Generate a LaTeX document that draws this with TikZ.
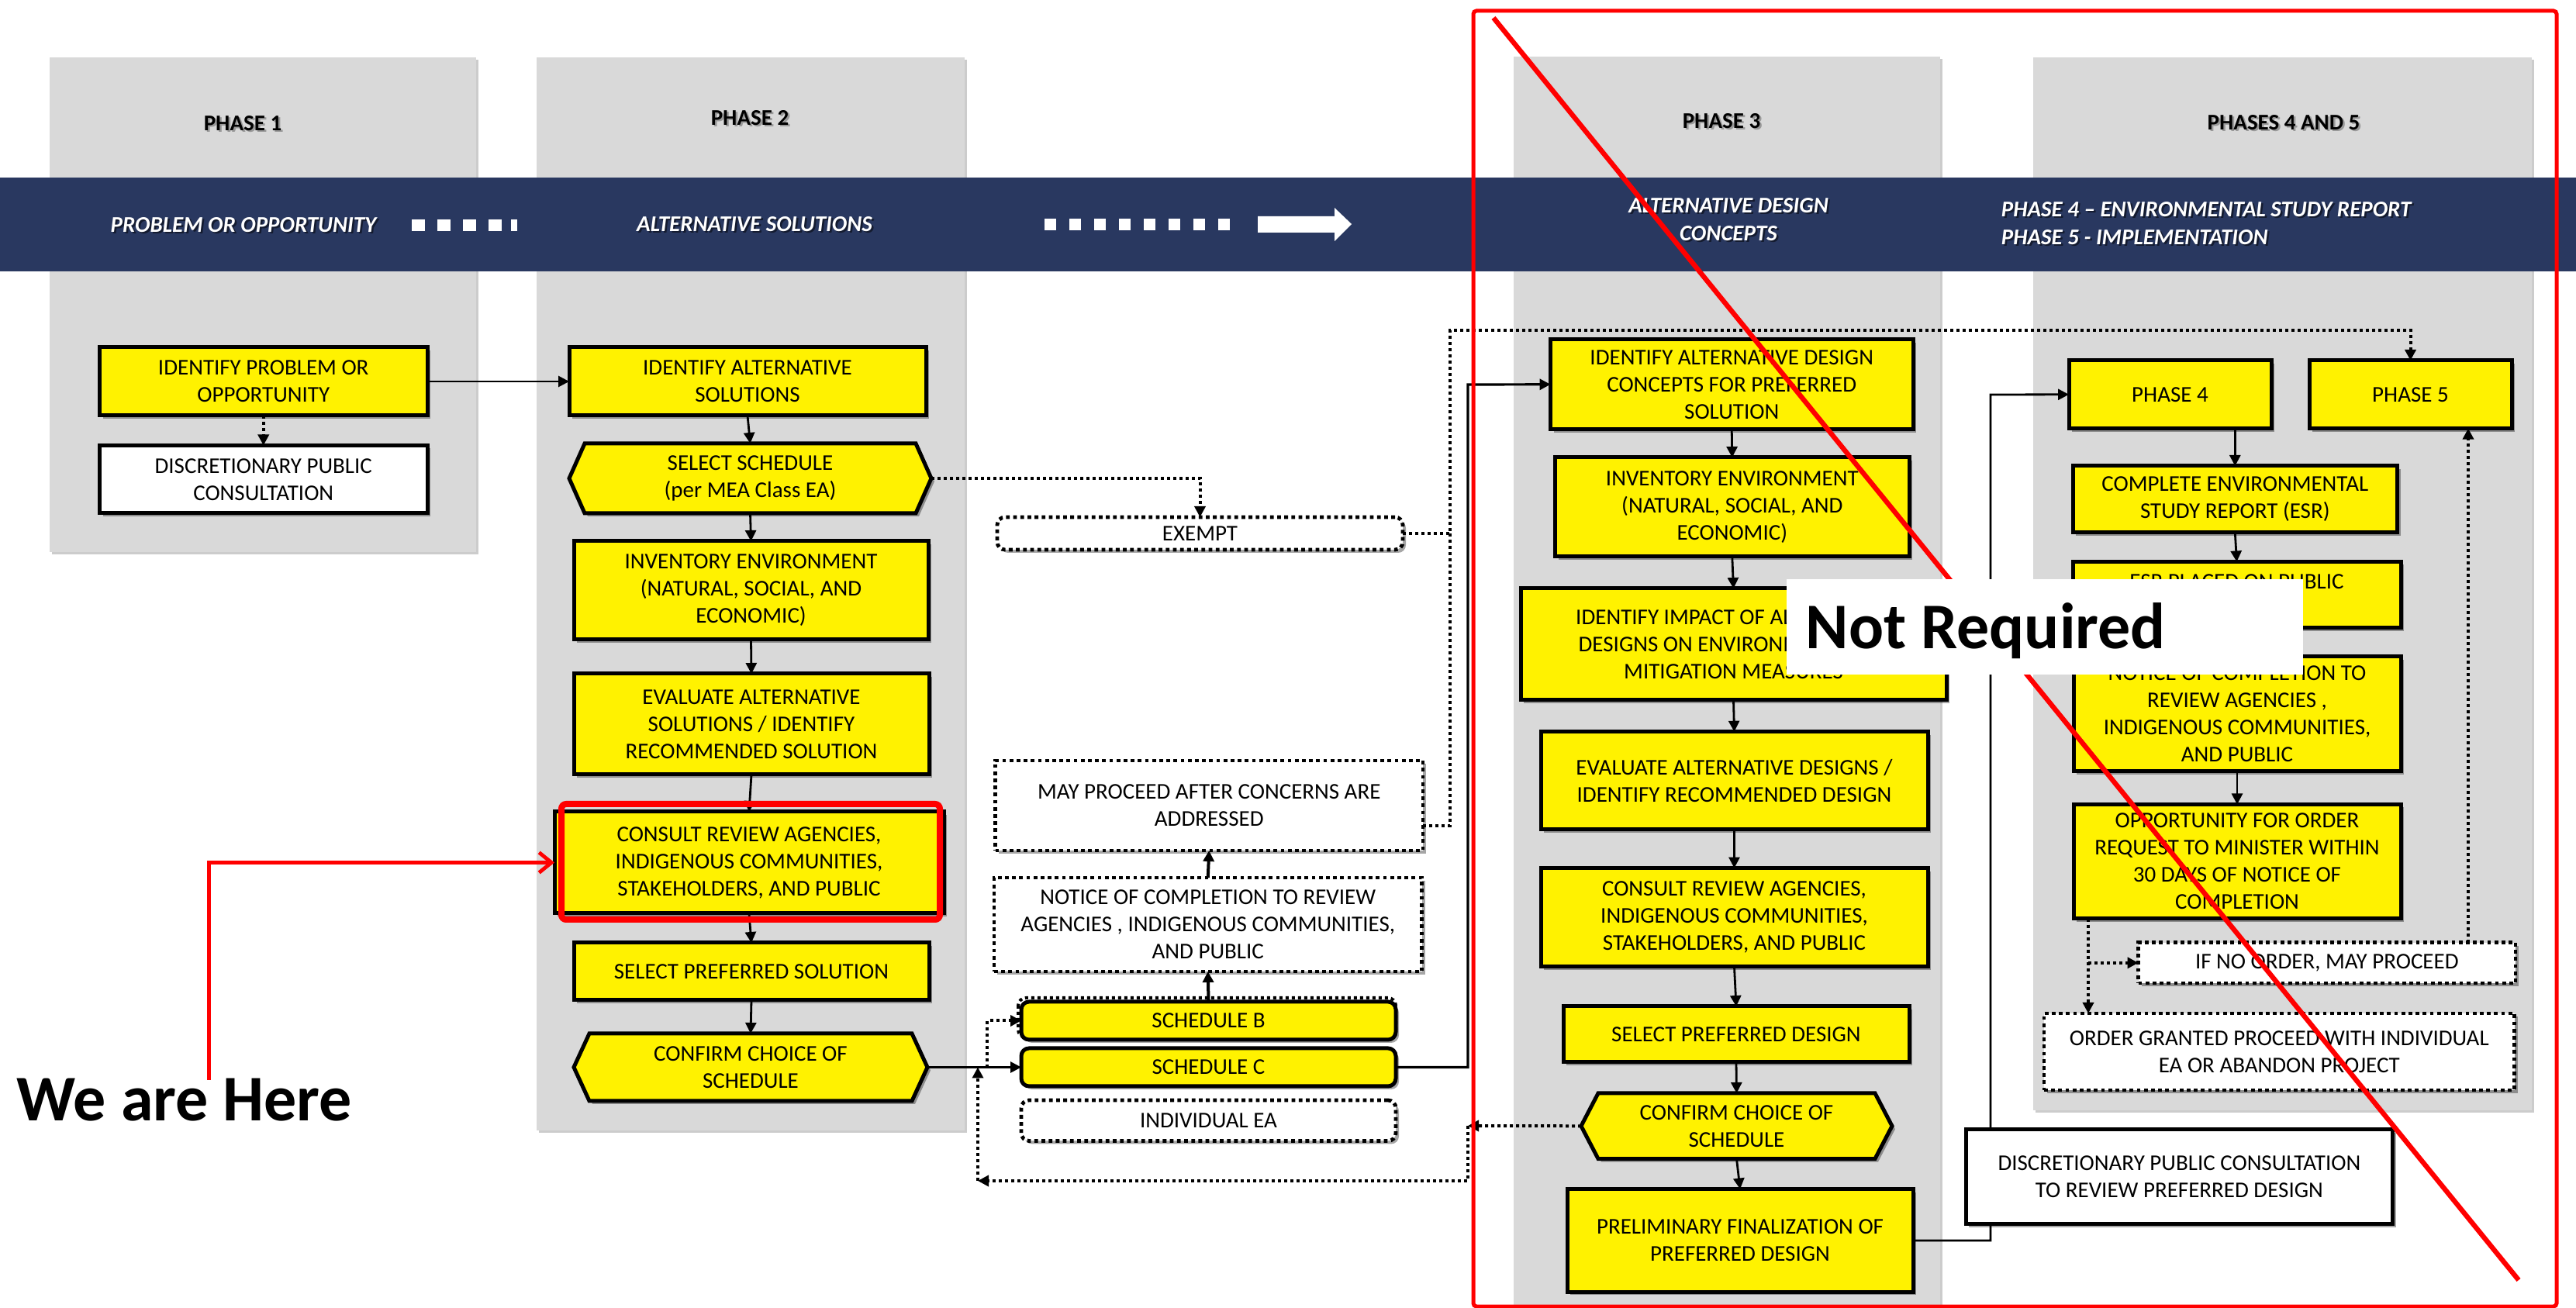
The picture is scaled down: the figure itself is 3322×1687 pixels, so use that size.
\documentclass[tikz,border=0pt]{standalone}
\usepackage{fontspec}
\setmainfont{Carlito}
\usetikzlibrary{arrows.meta,shadows,calc}
\definecolor{bannerblue}{RGB}{41,56,96}
\definecolor{colgray}{RGB}{217,217,217}
\tikzset{
  bf/.style={font=\fontsize{7.25pt}{8.75pt}\selectfont, align=center},
  shad/.style={drop shadow={shadow xshift=1pt, shadow yshift=-1pt, opacity=0.35, fill=black}},
  ybox/.style={bf, draw=black, line width=1.25pt, fill=yellow, inner sep=0pt, outer sep=0pt, shad},
  wbox/.style={ybox, fill=white},
  dbox/.style={bf, draw=black, line width=1.2pt, dash pattern=on 1.2pt off 1.1pt, fill=white, inner sep=0pt, outer sep=0pt, shad},
  rdbox/.style={dbox, rounded corners=2.5pt},
  rybox/.style={ybox, rounded corners=2.5pt},
  hexsty/.style={draw=black, line width=1.25pt, fill=yellow, shad},
  conn/.style={line width=0.7pt, -{Triangle[length=3.5pt,width=3.5pt]}},
  dline/.style={line width=1pt, dash pattern=on 1pt off 1pt},
  dconn/.style={dline, -{Triangle[length=3.5pt,width=3.5pt]}},
  phaselbl/.style={font=\bfseries\fontsize{7.25pt}{8.75pt}\selectfont},
  bantxt/.style={font=\bfseries\itshape\fontsize{7.25pt}{9pt}\selectfont, text=white},
  colsh/.style={drop shadow={shadow xshift=0.8pt, shadow yshift=-0.8pt, opacity=0.2, fill=black}},
}
\newcommand\bnode[7]{%
  \pgfmathsetmacro\bcx{(#3+#5)/2}\pgfmathsetmacro\bcy{(#4+#6)/2}%
  \pgfmathsetmacro\bww{(#5-#3)*0.25}\pgfmathsetmacro\bhh{(#6-#4)*0.25}%
  \node[#1, minimum width=\bww pt, minimum height=\bhh pt] (#2) at (\bcx,\bcy) {#7};}
\newcommand\hexnode[7]{%
  \pgfmathsetmacro\bcx{(#2+#4)/2}\pgfmathsetmacro\bcy{(#3+#5)/2}%
  \pgfmathsetmacro\bww{(#4-#2)*0.25}\pgfmathsetmacro\bhh{(#5-#3)*0.25}%
  \pgfmathsetmacro\bdd{#6*0.25}%
  \node[minimum width=\bww pt, minimum height=\bhh pt, inner sep=0pt, outer sep=0pt] (#1) at (\bcx,\bcy) {};
  \draw[hexsty] (#1.west) -- ([xshift=\bdd pt]#1.north west) -- ([xshift=-\bdd pt]#1.north east) -- (#1.east) -- ([xshift=-\bdd pt]#1.south east) -- ([xshift=\bdd pt]#1.south west) -- cycle;
  \node[bf] (#1t) at (#1.center) {#7};}
\newcommand\shlabel[4]{%
  \node[#3, text=black!60, opacity=0.55] (#1s) at ($(#2)+(2.5,2.5)$) {#4};
  \node[#3] (#1) at (#2) {#4};}
\begin{document}
\begin{tikzpicture}[x=0.25pt,y=-0.25pt]
\useasboundingbox (0,0) rectangle (3322,1687);
\fill[white] (0,0) rectangle (3322,1687);

% ---------- columns
\fill[colgray, colsh] (64,74) rectangle (614,712);
\fill[colgray, colsh] (692,74) rectangle (1244,1458);
\fill[colgray, colsh] (1952,73) rectangle (2502,1687);
\fill[colgray, colsh] (2622,74) rectangle (3265,1432);

\shlabel{l1}{313,159}{phaselbl}{PHASE 1}
\shlabel{l2}{967,152}{phaselbl}{PHASE 2}
\shlabel{l3}{2220,156}{phaselbl}{PHASE 3}
\shlabel{l45}{2945,158}{phaselbl}{PHASES 4 AND 5}

% ---------- banner
\fill[bannerblue] (0,229) rectangle (3322,350);
\foreach \i in {0,1,2,3} {\fill[white] (531+33*\i,283) rectangle (547.5+33*\i,298);}
\fill[white] (659,283) rectangle (667,298);
\foreach \i in {0,...,7} {\fill[white] (1347+32*\i,282.5) rectangle (1362+32*\i,297.5);}
\fill[white] (1622,279) -- (1721,279) -- (1721,268) -- (1743,289) -- (1721,311) -- (1721,300) -- (1622,300) -- cycle;

\node[bantxt, text=black, opacity=0.5] (b1s) at (316.5,292.5) {PROBLEM OR OPPORTUNITY};
\node[bantxt] (b1) at (314,290) {PROBLEM OR OPPORTUNITY};
\node[bantxt, text=black, opacity=0.5] (b2s) at (975.5,291.5) {ALTERNATIVE SOLUTIONS};
\node[bantxt] (b2) at (973,289) {ALTERNATIVE SOLUTIONS};
\node[bantxt, align=center, text=black, opacity=0.5] (b3s) at (2231.5,285.5) {ALTERNATIVE DESIGN\\CONCEPTS};
\node[bantxt, align=center] (b3) at (2229,283) {ALTERNATIVE DESIGN\\CONCEPTS};
\node[bantxt, align=left, anchor=west, inner sep=0pt, text=black, opacity=0.5] (b4s) at (2582.5,290.5) {PHASE 4 – ENVIRONMENTAL STUDY REPORT\\PHASE 5 - IMPLEMENTATION};
\node[bantxt, align=left, anchor=west, inner sep=0pt] (b4) at (2580,288) {PHASE 4 – ENVIRONMENTAL STUDY REPORT\\PHASE 5 - IMPLEMENTATION};

% ---------- phase 1
\bnode{ybox}{p1a}{128.5}{448}{551}{536}{IDENTIFY PROBLEM OR\\OPPORTUNITY}
\bnode{wbox}{p1b}{128.5}{574.5}{551}{662}{DISCRETIONARY PUBLIC\\CONSULTATION}

% ---------- phase 2
\bnode{ybox}{p2a}{734}{448}{1194}{536}{IDENTIFY ALTERNATIVE\\SOLUTIONS}
\hexnode{p2sched}{734}{572}{1201}{662}{20}{SELECT SCHEDULE\\(per MEA Class EA)}
\bnode{ybox}{p2inv}{740}{698}{1197}{825}{INVENTORY ENVIRONMENT\\(NATURAL, SOCIAL, AND\\ECONOMIC)}
\bnode{ybox}{p2eval}{740}{869}{1198}{999}{EVALUATE ALTERNATIVE\\SOLUTIONS / IDENTIFY\\RECOMMENDED SOLUTION}
\bnode{ybox}{p2cons}{715}{1047}{1217}{1178}{CONSULT REVIEW AGENCIES,\\INDIGENOUS COMMUNITIES,\\STAKEHOLDERS, AND PUBLIC}
\bnode{ybox}{p2sel}{740}{1216}{1198}{1290}{SELECT PREFERRED SOLUTION}
\hexnode{p2conf}{740}{1333}{1196}{1420}{20}{CONFIRM CHOICE OF\\SCHEDULE}

% ---------- middle
\bnode{rdbox}{exempt}{1286}{667}{1809}{709}{EXEMPT}
\bnode{dbox}{mayp}{1283.5}{981}{1835}{1097}{MAY PROCEED AFTER CONCERNS ARE\\ADDRESSED}
\bnode{dbox}{notice}{1282}{1132}{1833.5}{1253}{NOTICE OF COMPLETION TO REVIEW\\AGENCIES , INDIGENOUS COMMUNITIES,\\AND PUBLIC}
\draw[dline, rounded corners=2.5pt] (1313,1287) rectangle (1800,1338);
\bnode{rybox}{schB}{1317}{1292}{1800}{1341}{SCHEDULE B}
\bnode{rybox}{schC}{1317}{1352}{1800}{1401}{SCHEDULE C}
\bnode{rdbox}{indiv}{1317}{1419}{1800}{1471.5}{INDIVIDUAL EA}

% ---------- phase 3
\bnode{ybox}{p3a}{1999.5}{438}{2467}{553.6}{IDENTIFY ALTERNATIVE DESIGN\\CONCEPTS FOR PREFERRED\\SOLUTION}
\bnode{ybox}{p3inv}{2005.6}{590}{2462}{718}{INVENTORY ENVIRONMENT\\(NATURAL, SOCIAL, AND\\ECONOMIC)}
\bnode{ybox}{p3imp}{1961}{759}{2510}{903}{IDENTIFY IMPACT OF ALTERNATIVE\\DESIGNS ON ENVIRONMENT, AND\\MITIGATION MEASURES}
\bnode{ybox}{p3eval}{1987}{943.7}{2486}{1070}{EVALUATE ALTERNATIVE DESIGNS /\\IDENTIFY RECOMMENDED DESIGN}
\bnode{ybox}{p3cons}{1987}{1119.6}{2486}{1247}{CONSULT REVIEW AGENCIES,\\INDIGENOUS COMMUNITIES,\\STAKEHOLDERS, AND PUBLIC}
\bnode{ybox}{p3sel}{2016}{1298}{2462}{1370}{SELECT PREFERRED DESIGN}
\hexnode{p3conf}{2039}{1410}{2440}{1494.6}{22}{CONFIRM CHOICE OF\\SCHEDULE}
\bnode{ybox}{p3pre}{2021}{1533.6}{2467}{1666.5}{PRELIMINARY FINALIZATION OF\\PREFERRED DESIGN}

% ---------- phases 4 and 5
\bnode{ybox}{p4}{2668}{465}{2929}{552.6}{PHASE 4}
\bnode{ybox}{p5}{2978}{465}{3239}{552.6}{PHASE 5}
\bnode{ybox}{esr}{2673}{601}{3091.6}{687}{COMPLETE ENVIRONMENTAL\\STUDY REPORT (ESR)}
\bnode{ybox}{esrpub}{2673}{724.5}{3096}{810}{ESR PLACED ON PUBLIC\\RECORD}
\bnode{ybox}{notice2}{2674}{846.7}{3096}{995}{NOTICE OF COMPLETION TO\\REVIEW AGENCIES ,\\INDIGENOUS COMMUNITIES,\\AND PUBLIC}
\bnode{ybox}{opp}{2674}{1037.5}{3096}{1184.6}{OPPORTUNITY FOR ORDER\\REQUEST TO MINISTER WITHIN\\30 DAYS OF NOTICE OF\\COMPLETION}
\bnode{dbox}{ifno}{2757.6}{1215.7}{3244}{1268}{IF NO ORDER, MAY PROCEED}
\bnode{dbox}{ogr}{2636}{1307}{3242.5}{1406}{ORDER GRANTED PROCEED WITH INDIVIDUAL\\EA OR ABANDON PROJECT}

% ---------- connectors
\draw[conn] (p1a.east) -- (p2a.west);
\draw[dconn] (p1a.south) -- (p1b.north);
\draw[conn] (p2a.south) -- (p2sched.north);
\draw[conn] (p2sched.south) -- (p2inv.north);
\draw[conn] (p2inv.south) -- (p2eval.north);
\draw[conn] (p2eval.south) -- (p2cons.north);
\draw[conn] (p2cons.south) -- (p2sel.north);
\draw[conn] (p2sel.south) -- (p2conf.north);
\draw[dconn] (p2sched.east) -| (exempt.north);
\coordinate (dA) at (1870,426);
\coordinate (dB) at (1870,687);
\draw[dconn] (exempt.east) -| (dA) -| (p5.north);
\draw[dline] ([yshift=-6.5pt]mayp.east) -| (dB);
\draw[conn, line width=1pt] (notice.north) -- (mayp.south);
\draw[conn, line width=1pt] (schB.north) -- (notice.south);
\draw[conn] (p2conf.east) -- (schC.west);
\coordinate (j1) at (1273,1377);
\draw[dconn] (j1) |- (schB.west);
\coordinate (cB) at (1893,496);
\draw[conn, line width=0.8pt] (schC.east) -| (cB) -- (p3a.west);
\draw[conn] (p3a.south) -- (p3inv.north);
\draw[conn] (p3inv.south) -- (p3imp.north);
\draw[conn] (p3imp.south) -- (p3eval.north);
\draw[conn] (p3eval.south) -- (p3cons.north);
\draw[conn] (p3cons.south) -- (p3sel.north);
\draw[conn] (p3sel.south) -- (p3conf.north);
\draw[conn] (p3conf.south) -- (p3pre.north);
\coordinate (cC) at (1893,1452);
\coordinate (cD) at (1261,1523);
\draw[dconn] (p3conf.west) -- (cC);
\draw[dconn] (cC) |- (cD);
\draw[dconn] (cD) -- (cD |- schC.west);
\coordinate (cF) at (2567,509);
\draw[conn] (p3pre.east) -| (cF) -- (p4.west);
\draw[conn] (p4.south -| esr.north) -- (esr.north);
\draw[conn] (esr.south) -- (esrpub.north);
\draw[conn] (esrpub.south) -- (notice2.north);
\draw[conn] (notice2.south) -- (opp.north);
\coordinate (cG) at (2693,1241);
\coordinate (cH) at (3183,900);
\draw[dconn] (opp.south -| cG) -- (ogr.north -| cG);
\draw[dconn] (cG |- ifno.west) -- (ifno.west);
\draw[dconn] (ifno.north -| cH) -- (p5.south -| cH);

\bnode{wbox}{disc2}{2535}{1457}{3085.7}{1579}{DISCRETIONARY PUBLIC CONSULTATION\\TO REVIEW PREFERRED DESIGN}

% ---------- red annotations
\draw[red, line width=2pt, rounded corners=1.5pt] (724,1037) rectangle (1212,1186);
\node[anchor=base west, font=\bfseries\fontsize{21pt}{25pt}\selectfont, inner sep=0pt] (wah) at (21,1446) {We are Here};
\coordinate (wtop) at (269.5,1393);
\draw[red, line width=1.2pt, -{Straight Barb[length=4pt,width=6.5pt]}] (wtop) |- (p2cons.west);

\draw[red, line width=1.25pt, rounded corners=1pt] (1900,14) rectangle (3297,1685);
\coordinate (rd1) at (1926,23);
\coordinate (rd2) at (3248,1651);
\draw[red, line width=1.6pt] (rd1) -- (rd2);

\fill[white] (2304,747) rectangle (2970,870);
\node[anchor=base west, font=\bfseries\fontsize{21pt}{25pt}\selectfont, inner sep=0pt] (nr) at (2328,836.7) {Not Required};
\end{tikzpicture}
\end{document}
